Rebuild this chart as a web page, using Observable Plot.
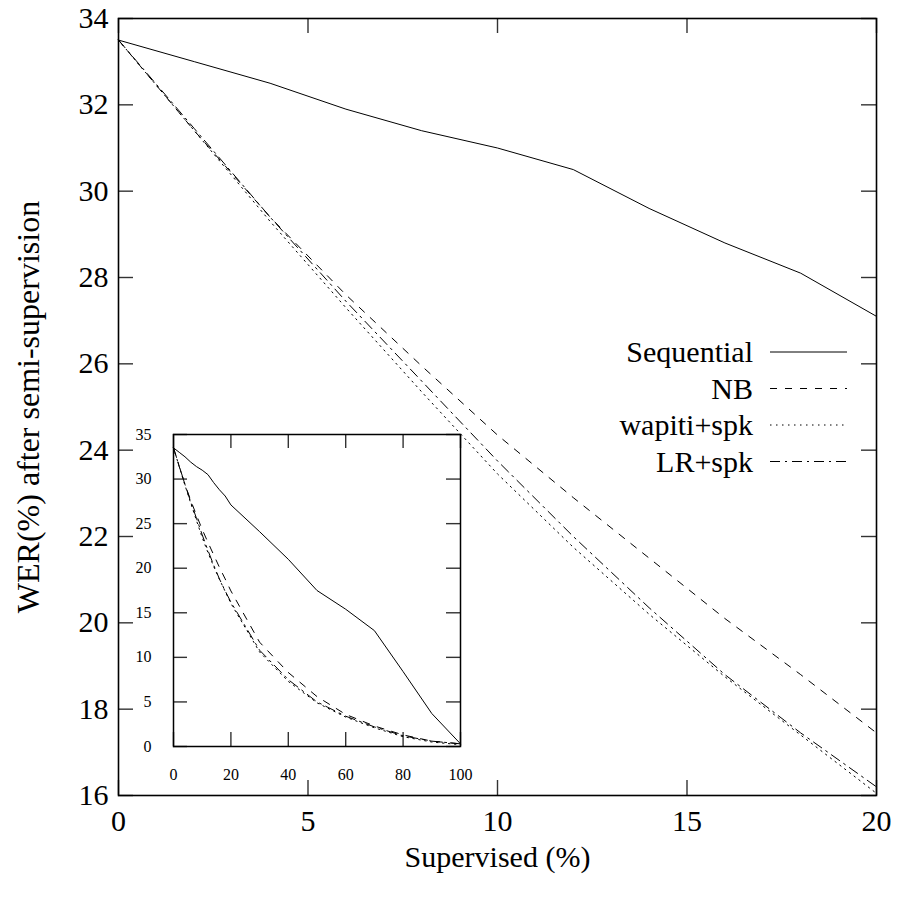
<!DOCTYPE html>
<html>
<head>
<meta charset="utf-8">
<script src="https://cdn.jsdelivr.net/npm/d3@7"></script>
<script src="https://cdn.jsdelivr.net/npm/@observablehq/plot@0.6"></script>
<style>
html, body { margin: 0; padding: 0; background: #fff; }
#chart { position: relative; width: 899px; height: 905px; font-family: "Liberation Serif"; }
#chart svg { position: absolute; }
#chart svg text { font-family: "Liberation Serif" !important; }
</style>
</head>
<body>
<div id="chart"></div>
<script>
// ---- data ----
const seriesNames = ["Sequential", "NB", "wapiti+spk", "LR+spk"];

// main chart: supervised % 0..20
const mainX = [0, 2, 4, 6, 8, 10, 12, 14, 16, 18, 20];
const mainSequential = [33.5, 33.0, 32.5, 31.9, 31.4, 31.0, 30.5, 29.6, 28.8, 28.1, 27.1];
const mainNB         = [33.5, 31.4, 29.4, 27.6, 25.95, 24.35, 22.9, 21.5, 20.1, 18.8, 17.45];
const mainWapiti     = [33.5, 31.4, 29.3, 27.3, 25.35, 23.45, 21.75, 20.2, 18.75, 17.4, 16.05];
const mainLR         = [33.5, 31.45, 29.4, 27.45, 25.6, 23.75, 22.0, 20.35, 18.8, 17.45, 16.2];

// inset: supervised % 30..100 (continues the main series)
const insetExtraX = [30, 40, 50, 60, 70, 80, 90, 100];
const insetSequential = [24.1, 21.0, 17.5, 15.4, 13.0, 8.4, 3.7, 0.3];
const insetNB         = [11.7, 8.3, 5.6, 3.6, 2.3, 1.3, 0.6, 0.3];
const insetWapiti     = [10.6, 7.3, 4.9, 3.3, 2.1, 1.1, 0.5, 0.2];
const insetLR         = [10.8, 7.5, 5.0, 3.4, 2.2, 1.2, 0.6, 0.3];

// tick labels
const mainXTicks = [0, 5, 10, 15, 20];
const mainYTicks = [16, 18, 20, 22, 24, 26, 28, 30, 32, 34];
const insetXTicks = [0, 20, 40, 60, 80, 100];
const insetYTicks = [0, 5, 10, 15, 20, 25, 30, 35];

const xTitle = "Supervised (%)";
const yTitle = "WER(%) after semi-supervision";

// ---- styles ----
const dashes = {"Sequential": null, "NB": "7,8", "wapiti+spk": "1.5,4.5", "LR+spk": "10,5,2,5"};
const FONT = "Liberation Serif";

function rows(xs, ys, name) {
  return xs.map((x, i) => ({x, y: ys[i], series: name}));
}
const mainSeries = [mainSequential, mainNB, mainWapiti, mainLR];
const insetSeries = [insetSequential, insetNB, insetWapiti, insetLR];
const mainData = seriesNames.map((n, i) => rows(mainX, mainSeries[i], n));
const insetData = seriesNames.map((n, i) => rows(mainX.concat(insetExtraX), mainSeries[i].concat(insetSeries[i]), n));

const chart = document.getElementById("chart");

// ---- main plot ----
const W = 899, H = 905, mL = 118, mR = 23, mT = 18, mB = 110;
const innerW = W - mL - mR, innerH = H - mT - mB;
const tickLen = 15;
const tickStyle = {stroke: "#333", strokeWidth: 1.4};

const main = Plot.plot({
  width: W, height: H,
  marginLeft: mL, marginRight: mR, marginTop: mT, marginBottom: mB,
  style: {fontFamily: FONT, background: "transparent", overflow: "visible", color: "black"},
  x: {domain: [0, 20]},
  y: {domain: [16, 34]},
  marks: [
    Plot.tickY(mainYTicks, {y: d => d, insetRight: innerW - tickLen, ...tickStyle}),
    Plot.tickY(mainYTicks, {y: d => d, insetLeft: innerW - tickLen, ...tickStyle}),
    Plot.tickX(mainXTicks, {x: d => d, insetTop: innerH - tickLen, ...tickStyle}),
    Plot.tickX(mainXTicks, {x: d => d, insetBottom: innerH - tickLen, ...tickStyle}),
    ...mainData.map(d => Plot.line(d, {x: "x", y: "y", stroke: "black", strokeWidth: 1, strokeDasharray: dashes[d[0].series]})),
    Plot.frame({stroke: "black", strokeWidth: 1.6}),
    Plot.axisX({ticks: mainXTicks, tickSize: 0, tickPadding: 14, fontSize: 30, label: null}),
    Plot.axisY({ticks: mainYTicks, tickSize: 0, tickPadding: 10, fontSize: 30, label: null}),
    Plot.text([xTitle], {text: d => d, frameAnchor: "bottom", lineAnchor: "middle", textAnchor: "middle", dy: 62, fontSize: 30}),
    Plot.text([yTitle], {text: d => d, frameAnchor: "left", textAnchor: "middle", lineAnchor: "middle", dx: -90, rotate: -90, fontSize: 32})
  ]
});
main.style.left = "0px";
main.style.top = "0px";
d3.select(main).selectAll("text").attr("font-family", FONT);
chart.appendChild(main);

// ---- inset plot ----
const iW = 337, iH = 367, iL = 40, iR = 10, iT = 10, iB = 45;
const iInnerW = iW - iL - iR, iInnerH = iH - iT - iB;
const iTick = 14;
const inset = Plot.plot({
  width: iW, height: iH,
  marginLeft: iL, marginRight: iR, marginTop: iT, marginBottom: iB,
  style: {fontFamily: FONT, background: "transparent", overflow: "visible", color: "black"},
  x: {domain: [0, 100]},
  y: {domain: [0, 35]},
  marks: [
    Plot.tickY(insetYTicks, {y: d => d, insetRight: iInnerW - iTick, ...tickStyle}),
    Plot.tickY(insetYTicks, {y: d => d, insetLeft: iInnerW - iTick, ...tickStyle}),
    Plot.tickX(insetXTicks, {x: d => d, insetTop: iInnerH - iTick, ...tickStyle}),
    Plot.tickX(insetXTicks, {x: d => d, insetBottom: iInnerH - iTick, ...tickStyle}),
    ...insetData.map(d => Plot.line(d, {x: "x", y: "y", stroke: "black", strokeWidth: 1, strokeDasharray: dashes[d[0].series]})),
    Plot.frame({stroke: "black", strokeWidth: 1.5}),
    Plot.axisX({ticks: insetXTicks, tickSize: 0, tickPadding: 22, fontSize: 16, label: null}),
    Plot.axisY({ticks: insetYTicks, tickSize: 0, tickPadding: 22, fontSize: 16, label: null})
  ]
});
inset.style.left = (173 - iL) + "px";
inset.style.top = (434 - iT) + "px";
d3.select(inset).selectAll("text").attr("font-family", FONT);
chart.appendChild(inset);

// ---- legend (inside the main frame, top-right area) ----
const legend = d3.create("svg")
  .attr("width", 300).attr("height", 160)
  .style("left", "560px").style("top", "330px")
  .style("overflow", "visible");
seriesNames.forEach((name, i) => {
  const cy = 22 + i * 36.5;
  legend.append("text")
    .attr("x", 193).attr("y", cy + 10)
    .attr("text-anchor", "end")
    .attr("font-family", FONT)
    .attr("font-size", 30)
    .attr("fill", "black")
    .text(name);
  legend.append("line")
    .attr("x1", 210).attr("x2", 287)
    .attr("y1", cy).attr("y2", cy)
    .attr("stroke", "black").attr("stroke-width", 1)
    .attr("stroke-dasharray", dashes[name]);
});
chart.appendChild(legend.node());
</script>
</body>
</html>
